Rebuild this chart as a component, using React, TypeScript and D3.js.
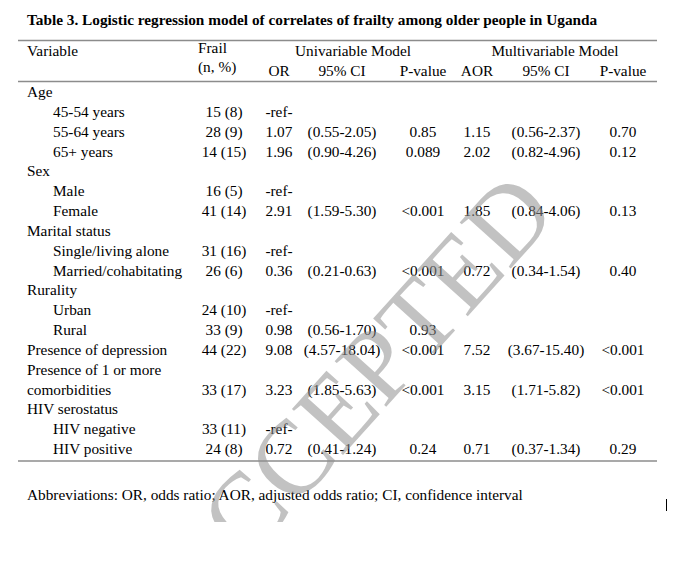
import React from "react";
import * as d3 from "d3";

const title = "Table 3. Logistic regression model of correlates of frailty among older people in Uganda";
const footnote = "Abbreviations: OR, odds ratio; AOR, adjusted odds ratio; CI, confidence interval";
const watermark = "ACCEPTED";

const labels = [
  "Age", "45-54 years", "55-64 years", "65+ years",
  "Sex", "Male", "Female",
  "Marital status", "Single/living alone", "Married/cohabitating",
  "Rurality", "Urban", "Rural",
  "Presence of depression", "Presence of 1 or more|comorbidities",
  "HIV serostatus", "HIV negative", "HIV positive",
];
const indents = [0, 1, 1, 1, 0, 1, 1, 0, 1, 1, 0, 1, 1, 0, 0, 0, 1, 1];
const frail = ["", "15 (8)", "28 (9)", "14 (15)", "", "16 (5)", "41 (14)", "", "31 (16)", "26 (6)", "", "24 (10)", "33 (9)", "44 (22)", "33 (17)", "", "33 (11)", "24 (8)"];
const orVals = ["", "-ref-", "1.07", "1.96", "", "-ref-", "2.91", "", "-ref-", "0.36", "", "-ref-", "0.98", "9.08", "3.23", "", "-ref-", "0.72"];
const ciVals = ["", "", "(0.55-2.05)", "(0.90-4.26)", "", "", "(1.59-5.30)", "", "", "(0.21-0.63)", "", "", "(0.56-1.70)", "(4.57-18.04)", "(1.85-5.63)", "", "", "(0.41-1.24)"];
const pVals = ["", "", "0.85", "0.089", "", "", "<0.001", "", "", "<0.001", "", "", "0.93", "<0.001", "<0.001", "", "", "0.24"];
const aorVals = ["", "", "1.15", "2.02", "", "", "1.85", "", "", "0.72", "", "", "", "7.52", "3.15", "", "", "0.71"];
const aciVals = ["", "", "(0.56-2.37)", "(0.82-4.96)", "", "", "(0.84-4.06)", "", "", "(0.34-1.54)", "", "", "", "(3.67-15.40)", "(1.71-5.82)", "", "", "(0.37-1.34)"];
const apVals = ["", "", "0.70", "0.12", "", "", "0.13", "", "", "0.40", "", "", "", "<0.001", "<0.001", "", "", "0.29"];

const colKeys = ["frail", "or", "ci", "p", "aor", "aci", "ap"];
const header2 = ["(n, %)", "OR", "95% CI", "P-value", "AOR", "95% CI", "P-value"];

export default function App() {
  const W = 680, H = 571;
  const font = "'Liberation Serif', 'Times New Roman', serif";
  const fs = 15.3;
  const x = d3.scaleOrdinal<string, number>().domain(colKeys).range([224, 279, 342, 423, 477, 546, 623]);
  const y = d3.scaleLinear().domain([0, 18]).range([97, 454]);
  const left = 27, indentW = 26;
  const ruleX = [18, 657];

  let line = 0;
  const rows = labels.map((lab, i) => {
    const parts = lab.split("|");
    const r = { parts, start: line, last: line + parts.length - 1, i };
    line += parts.length;
    return r;
  });
  const cols: Record<string, string[]> = { frail, or: orVals, ci: ciVals, p: pVals, aor: aorVals, aci: aciVals, ap: apVals };

  const wmX = 378, wmY = 416;

  return (
    <svg width={W} height={H} style={{ position: "absolute", left: 0, top: 0, background: "#fff" }} fontFamily={font}>
      <defs>
        <clipPath id="wmclip">
          <rect x={0} y={0} width={W} height={522} />
        </clipPath>
      </defs>
      <rect width={W} height={H} fill="#fff" />
      <text x={left} y={25} fontSize={fs} fontWeight="bold" fill="#000">{title}</text>
      <line x1={ruleX[0]} x2={ruleX[1]} y1={40.5} y2={40.5} stroke="#8c8c8c" strokeWidth={1.6} />
      <line x1={ruleX[0]} x2={ruleX[1]} y1={81.5} y2={81.5} stroke="#8c8c8c" strokeWidth={1.6} />
      <line x1={ruleX[0]} x2={ruleX[1]} y1={461} y2={461} stroke="#8c8c8c" strokeWidth={1.6} />
      <g fontSize={fs} fill="#000">
        <text x={left} y={56}>Variable</text>
        <text x={198} y={53}>Frail</text>
        <text x={198} y={72}>{header2[0]}</text>
        <text x={(x("or") + x("p")) / 2 + 2} y={56} textAnchor="middle">Univariable Model</text>
        <text x={(x("aor") + x("ap")) / 2 + 5} y={56} textAnchor="middle">Multivariable Model</text>
        {colKeys.slice(1).map((k, j) => (
          <text key={k} x={x(k)} y={76} textAnchor="middle">{header2[j + 1]}</text>
        ))}
        {rows.map((r) => (
          <g key={r.i}>
            {r.parts.map((p, k) => (
              <text key={k} x={left + indents[r.i] * indentW} y={y(r.start + k)}>{p}</text>
            ))}
            {colKeys.map((c) => cols[c][r.i] ? (
              <text key={c} x={x(c)} y={y(r.last)} textAnchor="middle">{cols[c][r.i]}</text>
            ) : null)}
          </g>
        ))}
        <text x={left} y={500}>{footnote}</text>
      </g>
      <line x1={666.5} x2={666.5} y1={499} y2={511} stroke="#000" strokeWidth={1} />
      <g clipPath="url(#wmclip)">
        <text x={wmX} y={wmY} fontSize={105} fill="#8f8f8f" fillOpacity={0.55} textAnchor="middle" transform={`rotate(-48 ${wmX} ${wmY})`}>{watermark}</text>
      </g>
    </svg>
  );
}
